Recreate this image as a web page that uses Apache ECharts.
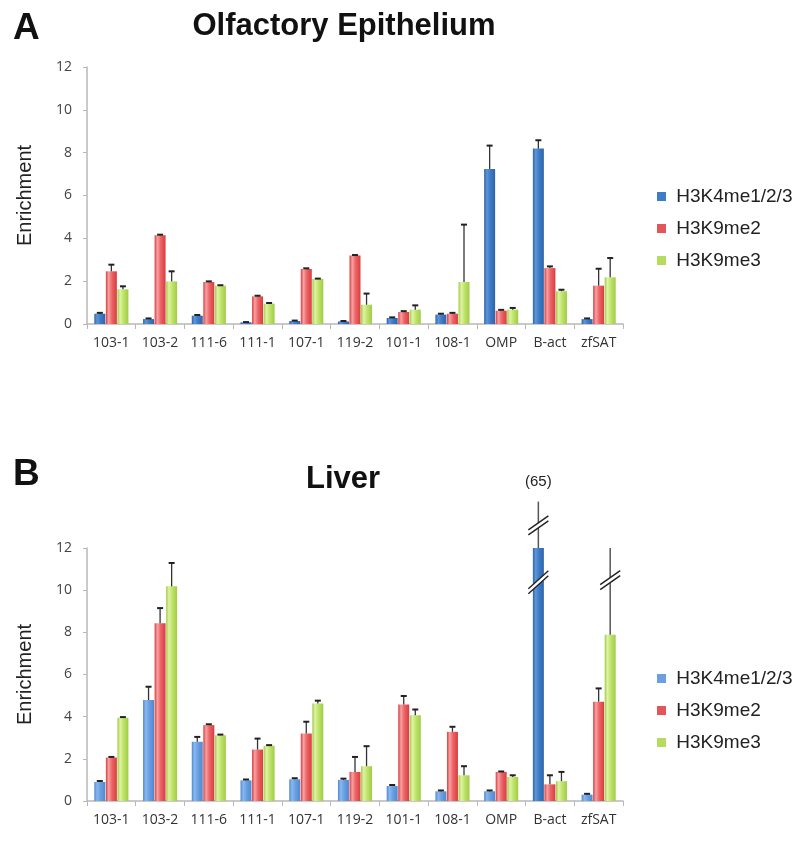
<!DOCTYPE html>
<html><head><meta charset="utf-8">
<script src="https://cdn.jsdelivr.net/npm/echarts@6/dist/echarts.min.js"></script>
<style>html,body{margin:0;padding:0;background:#fff}#c{width:800px;height:850px}</style>
</head><body><div id="c"></div>
<script>
const categories = ['103-1','103-2','111-6','111-1','107-1','119-2','101-1','108-1','OMP','B-act','zfSAT'];
const seriesNames = ['H3K4me1/2/3','H3K9me2','H3K9me3'];
const yTicks = [0,2,4,6,8,10,12];

// Panel A: Olfactory Epithelium (value, top of error bar)
const oeH3K4 = [0.48,0.23,0.39,0.08,0.14,0.12,0.28,0.44,7.24,8.19,0.23];
const oeH3K4Err = [0.52,0.26,0.42,0.09,0.16,0.14,0.31,0.48,8.33,8.58,0.26];
const oeH3K9me2 = [2.46,4.14,1.96,1.29,2.57,3.20,0.56,0.48,0.62,2.61,1.79];
const oeH3K9me2Err = [2.77,4.17,1.99,1.32,2.60,3.22,0.60,0.52,0.66,2.69,2.58];
const oeH3K9me3 = [1.62,1.99,1.79,0.95,2.10,0.90,0.67,1.96,0.67,1.53,2.18];
const oeH3K9me3Err = [1.76,2.46,1.81,0.98,2.12,1.42,0.87,4.64,0.75,1.60,3.08];

// Panel B: Liver
const lvH3K4 = [0.90,4.79,2.81,0.98,1.03,1.00,0.71,0.46,0.46,65,0.30];
const lvH3K4Err = [0.95,5.42,3.04,1.02,1.08,1.06,0.76,0.50,0.50,14.2,0.34];
const lvH3K9me2 = [2.06,8.43,3.60,2.44,3.20,1.38,4.58,3.28,1.38,0.79,4.71];
const lvH3K9me2Err = [2.09,9.15,3.64,2.96,3.76,2.09,4.98,3.52,1.40,1.22,5.34];
const lvH3K9me3 = [3.95,10.18,3.12,2.62,4.63,1.65,4.07,1.22,1.14,0.94,7.88];
const lvH3K9me3Err = [3.98,11.29,3.15,2.65,4.76,2.60,4.34,1.65,1.22,1.38,12.0];
// 0 = normal, 1 = broken bar and error line (value off scale), 2 = broken error line
const lvH3K4Break = [0,0,0,0,0,0,0,0,0,1,0];
const lvH3K9me3Break = [0,0,0,0,0,0,0,0,0,0,2];

const AXMAX = 12;
function grad(light, base, dark){
  return new echarts.graphic.LinearGradient(0,0,1,0,[
    {offset:0,color:dark},{offset:0.25,color:light},{offset:0.55,color:base},{offset:1,color:dark}]);
}
const colA = [grad('#5d95d8','#3f7cc6','#2e64a8'), grad('#f6a2a2','#ec6466','#d93c3f'), grad('#def3a4','#c0e36c','#a0cc46')];
const colB = [grad('#8ab8ee','#6aa0e2','#4f88d2'), colA[1], colA[2]];
const solidA = ['#3f7cc6','#e25558','#b5dc5e'];
const solidB = ['#6aa0e2','#e25558','#b5dc5e'];

function barSeries(name, gi, vals, color, special){
  return {
    type:'bar', name, xAxisIndex:gi, yAxisIndex:gi, barWidth:11, barGap:'5%', clip:true,
    data: vals.map((v,i)=> (special && special[i]===1) ? {value:v, itemStyle:{color:grad('#5d95d8','#3f7cc6','#2e64a8')}} : v),
    itemStyle:{color}, z:2
  };
}
function errSeries(name, gi, idx, vals, tops, flags){
  return {
    type:'custom', name:name+' err', xAxisIndex:gi, yAxisIndex:gi, z:5, clip:false, silent:true,
    data: vals.map((v,i)=>[i, v, tops[i], flags ? flags[i] : 0]),
    renderItem(params, api){
      const i = api.value(0), v = api.value(1), top = api.value(2), flag = api.value(3);
      const off = (idx-1)*11.55;
      const b = api.coord([i, Math.min(v, AXMAX)]);
      const x = b[0] + off, y0 = b[1];
      const y1 = api.coord([i, top])[1];
      const children = [];
      if (!flag) {
        children.push({type:'line', shape:{x1:x,y1:y0,x2:x,y2:y1}, style:{stroke:'#333',lineWidth:1.3}});
        children.push({type:'line', shape:{x1:x-3,y1:y1,x2:x+3,y2:y1}, style:{stroke:'#222',lineWidth:2}});
      } else {
        children.push({type:'line', shape:{x1:x,y1:y0,x2:x,y2:y1}, style:{stroke:'#555',lineWidth:1.5}});
        const yb = api.coord([i, top-(flag===1?1.1:1.5)])[1];
        const brk = (yc, w, h) => {
          const g = 5;
          children.push({type:'polygon', shape:{points:[[x-w,yc+h/2],[x+w,yc-h/2],[x+w,yc-h/2+g],[x-w,yc+h/2+g]]}, style:{fill:'#fff'}});
          children.push({type:'line', shape:{x1:x-w,y1:yc+h/2,x2:x+w,y2:yc-h/2}, style:{stroke:'#222',lineWidth:1.4}});
          children.push({type:'line', shape:{x1:x-w,y1:yc+h/2+g,x2:x+w,y2:yc-h/2+g}, style:{stroke:'#222',lineWidth:1.4}});
        };
        brk(yb-2, 10, 14);
        if (flag === 1) {
          const ybar = api.coord([i, AXMAX-1.6])[1];
          brk(ybar-2, 10, 18);
          children.push({type:'text', style:{text:'('+v+')', x:x, y:y1-20, align:'center', verticalAlign:'middle', font:'15px "Liberation Sans", Arial', fill:'#222'}});
        }
      }
      return {type:'group', children};
    }
  };
}

function xAx(gi){
  return {type:'category', gridIndex:gi, data:categories, boundaryGap:true,
    axisLine:{lineStyle:{color:'#b8b8b8',width:1.5}}, axisTick:{show:true,length:5,lineStyle:{color:'#b8b8b8'}},
    axisLabel:{color:'#333', fontSize:14, fontFamily:'"Open Sans"', margin:12}};
}
function yAx(gi){
  return {type:'value', gridIndex:gi, min:yTicks[0], max:yTicks[yTicks.length-1], interval:yTicks[1]-yTicks[0],
    name:'Enrichment', nameLocation:'middle', nameGap:52, nameRotate:90,
    nameTextStyle:{color:'#222', fontSize:20, fontFamily:'"Liberation Sans", Arial'},
    axisLine:{show:true, lineStyle:{color:'#b8b8b8',width:1.5}}, axisTick:{show:true,length:4,lineStyle:{color:'#b8b8b8'}},
    splitLine:{show:false},
    axisLabel:{color:'#444', fontSize:14, fontFamily:'"Open Sans"', margin:15}};
}
function legend(top, solids){
  return {orient:'vertical', left:652, top, itemWidth:9, itemHeight:9, itemGap:13,
    textStyle:{fontSize:19, fontFamily:'"Liberation Sans", Arial', color:'#222'},
    formatter: n => ' ' + n,
    data: seriesNames.map((n,k)=>({name:n, icon:'rect', itemStyle:{color:solids[k]}})),
    selectedMode:false};
}

const chart = echarts.init(document.getElementById('c'), null, {renderer:'canvas'});
chart.setOption({
  animation:false,
  backgroundColor:'#fff',
  title:[
    {text:'A', left:8, top:5, textStyle:{fontSize:37, fontWeight:'bold', fontFamily:'"Liberation Sans", Arial', color:'#111'}},
    {text:'Olfactory Epithelium', left:339, textAlign:'center', top:6, textStyle:{fontSize:31, fontWeight:'bold', fontFamily:'"Liberation Sans", Arial', color:'#111'}},
    {text:'B', left:8, top:451, textStyle:{fontSize:37, fontWeight:'bold', fontFamily:'"Liberation Sans", Arial', color:'#111'}},
    {text:'Liver', left:338, textAlign:'center', top:459, textStyle:{fontSize:31, fontWeight:'bold', fontFamily:'"Liberation Sans", Arial', color:'#111'}}
  ],
  legend:[legend(182, solidA), legend(664, solidB)],
  grid:[
    {left:87, top:67, width:536, height:257},
    {left:87, top:548, width:536, height:253}
  ],
  xAxis:[xAx(0), xAx(1)],
  yAxis:[yAx(0), yAx(1)],
  series:[
    barSeries(seriesNames[0],0,oeH3K4,colA[0]),
    barSeries(seriesNames[1],0,oeH3K9me2,colA[1]),
    barSeries(seriesNames[2],0,oeH3K9me3,colA[2]),
    barSeries(seriesNames[0],1,lvH3K4,colB[0],lvH3K4Break),
    barSeries(seriesNames[1],1,lvH3K9me2,colB[1]),
    barSeries(seriesNames[2],1,lvH3K9me3,colB[2]),
    errSeries('a0',0,0,oeH3K4,oeH3K4Err),
    errSeries('a1',0,1,oeH3K9me2,oeH3K9me2Err),
    errSeries('a2',0,2,oeH3K9me3,oeH3K9me3Err),
    errSeries('b0',1,0,lvH3K4,lvH3K4Err,lvH3K4Break),
    errSeries('b1',1,1,lvH3K9me2,lvH3K9me2Err),
    errSeries('b2',1,2,lvH3K9me3,lvH3K9me3Err,lvH3K9me3Break)
  ]
});
</script></body></html>
